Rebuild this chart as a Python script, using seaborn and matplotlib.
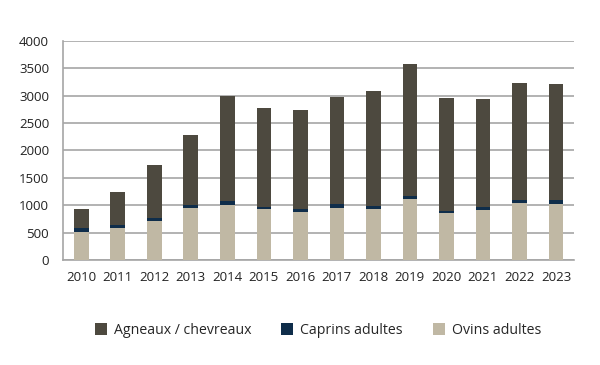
import numpy as np
import pandas as pd
import seaborn as sns
import matplotlib.pyplot as plt
from matplotlib.patches import Patch
from matplotlib.ticker import MultipleLocator

sns.set_style("white")
plt.rcParams['font.family'] = ['Open Sans', 'DejaVu Sans']

years = [2010, 2011, 2012, 2013, 2014, 2015, 2016, 2017, 2018, 2019, 2020, 2021, 2022, 2023]
ovins = [517, 579, 712, 956, 1005, 925, 883, 943, 925, 1108, 852, 913, 1035, 1017]
caprins = [62, 60, 61, 50, 79, 49, 54, 74, 67, 61, 49, 61, 55, 73]
totals = [931, 1248, 1730, 2287, 2994, 2768, 2744, 2970, 3085, 3573, 2951, 2945, 3226, 3213]
agneaux = [t - o - c for t, o, c in zip(totals, ovins, caprins)]

labels = ["Agneaux / chevreaux", "Caprins adultes", "Ovins adultes"]
colors = ["#4d493f", "#0f2d4a", "#c0b8a4"]

df = pd.DataFrame({"year": [str(y) for y in years], "ovins": ovins,
                   "caprins": caprins, "agneaux": agneaux})
df["lvl_caprins"] = df["ovins"] + df["caprins"]
df["lvl_agneaux"] = df["lvl_caprins"] + df["agneaux"]

fig, ax = plt.subplots(figsize=(6, 3.65), dpi=100)
fig.subplots_adjust(left=0.105, right=0.957, top=0.888, bottom=0.288)

# stacked by drawing cumulative levels from the top down
for col, color in zip(["lvl_agneaux", "lvl_caprins", "ovins"], colors):
    sns.barplot(ax=ax, data=df, x="year", y=col, color=color, width=0.4,
                saturation=1, edgecolor="none", linewidth=0, zorder=3)

ax.set_ylim(0, 4000)
ax.set_xlim(-0.5, len(years) - 0.5)
ax.yaxis.set_major_locator(MultipleLocator(500))
ax.yaxis.grid(True, color="#a6a6a6", linewidth=1.2, zorder=0)
ax.set_axisbelow(True)
ax.set_xlabel("")
ax.set_ylabel("")

for s in ["top", "right"]:
    ax.spines[s].set_visible(False)
for s in ["left", "bottom"]:
    ax.spines[s].set_color("#a6a6a6")
    ax.spines[s].set_linewidth(1.2)

ax.set_xticks(np.arange(-0.5, len(years)), minor=True)
ax.tick_params(axis="x", which="major", length=0, labelsize=9.5, pad=8, colors="#222222")
ax.tick_params(axis="x", which="minor", length=4, width=1.2, color="#a6a6a6")
ax.tick_params(axis="y", which="major", length=4, width=1.2, color="#a6a6a6",
               labelsize=9.5, pad=6, labelcolor="#222222")

handles = [Patch(facecolor=c, edgecolor="none") for c in colors]
fig.legend(handles, labels, loc="center", bbox_to_anchor=(0.53, 0.095), ncol=3,
           frameon=False, fontsize=10.2, handlelength=0.85, handleheight=0.85,
           handletextpad=0.5, columnspacing=2.1)

plt.savefig("out.png", dpi=100)
